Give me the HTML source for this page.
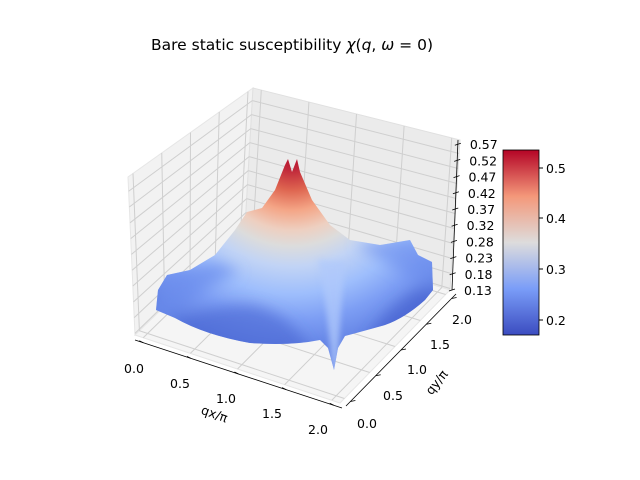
<!DOCTYPE html>
<html><head><meta charset="utf-8"><style>
html,body{margin:0;padding:0;background:#fff;}
svg{display:block;font-family:"DejaVu Sans","Liberation Sans",sans-serif;}
</style></head><body>
<svg id="s" width="640" height="480" viewBox="0 0 640 480" xmlns="http://www.w3.org/2000/svg">
<defs>
<filter id="bl" x="-20%" y="-20%" width="140%" height="140%"><feGaussianBlur stdDeviation="7"/></filter>
<filter id="bl2" x="-50%" y="-20%" width="200%" height="140%"><feGaussianBlur stdDeviation="3"/></filter>
<linearGradient id="cb" x1="0" y1="1" x2="0" y2="0">
<stop offset="0" stop-color="#3b4cc0"/><stop offset="0.25" stop-color="#7a9df8"/>
<stop offset="0.5" stop-color="#dddcdc"/><stop offset="0.75" stop-color="#f4987a"/>
<stop offset="1" stop-color="#b40426"/></linearGradient>
<radialGradient id="pk" cx="292" cy="150" r="200" gradientUnits="userSpaceOnUse">
<stop offset="0" stop-color="#b40426"/>
<stop offset="0.1" stop-color="#c0283a"/>
<stop offset="0.2" stop-color="#de6550"/>
<stop offset="0.3" stop-color="#f4a586"/>
<stop offset="0.4" stop-color="#eecfc0"/>
<stop offset="0.48" stop-color="#dcdcdc"/>
<stop offset="0.58" stop-color="#c2d4f5"/>
<stop offset="0.72" stop-color="#9ebefc"/>
<stop offset="0.85" stop-color="#7d9ef4"/>
<stop offset="1" stop-color="#6282e4"/>
</radialGradient>
<clipPath id="surf"><path d="M156,310 L158,290 L167,275 L190,270 L215,255 L235,230 L247,212 L262,208 L275,190 L285,165 L288,159 L292,172 L297,159 L300,172 L312,200 L330,225 L350,240 L380,245 L410,240 L418,255 L432,262 L433,290 L425,300 Q405,318 385,325 Q360,332 345,336 L338,348 L334,370 L328,348 L320,340 Q290,346 250,343 Q205,335 175,318 Z"/></clipPath>
</defs>
<text x="292" y="50" font-size="15.5" text-anchor="middle">Bare static susceptibility <tspan font-style="italic">χ</tspan>(<tspan font-style="italic">q</tspan>, <tspan font-style="italic">ω</tspan> = 0)</text>
<polygon points="135,335 245,228 253,88 128,177" fill="#f2f2f2" stroke="#e6e6e6"/>
<polygon points="245,228 450,290 460,140 253,88" fill="#ebebeb" stroke="#e0e0e0"/>
<polygon points="135,335 340,403 450,290 245,228" fill="#f5f5f5" stroke="#e6e6e6"/>
<g id="grid" stroke="#cfcfcf" stroke-width="1"></g>
<g clip-path="url(#surf)">
<rect x="140" y="150" width="310" height="230" fill="url(#pk)"/>
<g filter="url(#bl)">
<path d="M150,335 Q200,305 250,305 Q290,312 310,350 L300,370 L150,370 Z" fill="#4a66d2" opacity="0.6"/>
<path d="M365,345 Q385,300 440,280 L445,345 Z" fill="#3f5bcc" opacity="0.6"/>
<path d="M150,312 L160,282 L178,270 L215,262 L240,272 Q200,288 170,318 Z" fill="#6b8cec" opacity="0.7"/>
<path d="M355,245 L410,238 L436,262 L436,295 Q400,270 355,245 Z" fill="#6d8eec" opacity="0.6"/>
</g>
<path d="M318,260 Q328,310 332,372 L338,372 Q340,310 345,262 Z" fill="#b0c9fb" opacity="0.75" filter="url(#bl2)"/>
</g>
<line x1="135" y1="340" x2="342" y2="408" stroke="#000" stroke-width="0.8"/>
<line x1="346" y1="406" x2="456" y2="294" stroke="#000" stroke-width="0.8"/>
<line x1="458" y1="140" x2="452" y2="290" stroke="#000" stroke-width="0.8"/>
<g id="ticks" stroke="#000" stroke-width="0.8"></g>
<g font-size="12.5">
<text x="134" y="373" text-anchor="middle">0.0</text>
<text x="180" y="388" text-anchor="middle">0.5</text>
<text x="226" y="403" text-anchor="middle">1.0</text>
<text x="272" y="418" text-anchor="middle">1.5</text>
<text x="318" y="434" text-anchor="middle">2.0</text>
<text x="367" y="428" text-anchor="middle">0.0</text>
<text x="393" y="400" text-anchor="middle">0.5</text>
<text x="417" y="374" text-anchor="middle">1.0</text>
<text x="440" y="349" text-anchor="middle">1.5</text>
<text x="462" y="324" text-anchor="middle">2.0</text>
<text transform="translate(213,418) rotate(20)" text-anchor="middle">qx/π</text>
<text transform="translate(440,385) rotate(-52)" text-anchor="middle">qy/π</text>
</g>
<g id="zl" font-size="12.5"></g>
<rect x="503" y="150" width="36" height="185" fill="url(#cb)" stroke="#000" stroke-width="0.8"/>
<g font-size="12.5" stroke="#000">
<line x1="539" y1="168" x2="543" y2="168"/><line x1="539" y1="218" x2="543" y2="218"/>
<line x1="539" y1="269" x2="543" y2="269"/><line x1="539" y1="320" x2="543" y2="320"/>
</g>
<g font-size="12.5">
<text x="546" y="173">0.5</text><text x="546" y="223">0.4</text>
<text x="546" y="274">0.3</text><text x="546" y="325">0.2</text>
</g>
</svg>
<script>
var NS="http://www.w3.org/2000/svg";
function L(g,a,b,c,d){var e=document.createElementNS(NS,"line");e.setAttribute("x1",a);e.setAttribute("y1",b);e.setAttribute("x2",c);e.setAttribute("y2",d);document.getElementById(g).appendChild(e);}
function lerp(p,q,t){return [p[0]+(q[0]-p[0])*t,p[1]+(q[1]-p[1])*t];}
var A=[135,335],B=[340,403],C=[450,290],D=[245,228],TL=[128,177],TB=[253,88],TR=[460,140];
var fr=[0.04,0.27,0.5,0.73,0.96];
fr.forEach(function(t){
 var p=lerp(A,B,t),q=lerp(D,C,t);L("grid",p[0],p[1],q[0],q[1]);
 var r=lerp(D,C,t),s=lerp(TB,TR,t);L("grid",r[0],r[1],s[0],s[1]);
 var p2=lerp(B,C,t),q2=lerp(A,D,t);L("grid",p2[0],p2[1],q2[0],q2[1]);
 var r2=lerp(A,D,t),s2=lerp(TL,TB,t);L("grid",r2[0],r2[1],s2[0],s2[1]);
 var xt=lerp([135,340],[342,408],t);L("ticks",xt[0],xt[1],xt[0]-4,xt[1]-2);
 var yt=lerp([346,406],[456,294],t);L("ticks",yt[0],yt[1],yt[0]+5,yt[1]-1);
});
var labs=["0.13","0.18","0.23","0.28","0.32","0.37","0.42","0.47","0.52","0.57"];
for(var k=0;k<10;k++){
 var t=(k+0.1)/10;
 var a=lerp(A,TL,t),b=lerp(D,TB,t),c=lerp(C,TR,t);
 L("grid",a[0],a[1],b[0],b[1]);L("grid",b[0],b[1],c[0],c[1]);
 var y=290-k*16.2,x=452+k*0.65;
 L("ticks",x-3,y+1,x+3,y-1);
 var tx=document.createElementNS(NS,"text");tx.setAttribute("x",x+12);tx.setAttribute("y",y+5);tx.textContent=labs[k];document.getElementById("zl").appendChild(tx);
}
</script>
</body></html>
